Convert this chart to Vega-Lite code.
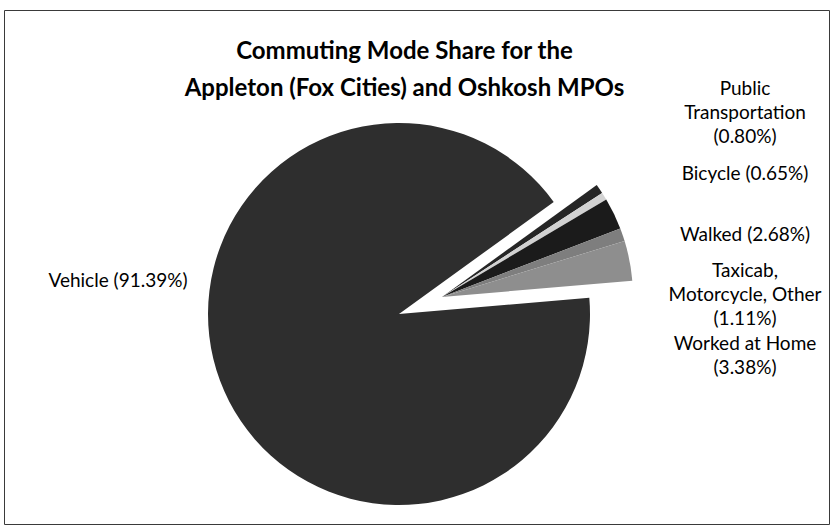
{
  "$schema": "https://vega.github.io/schema/vega-lite/v6.json",
  "width": 825,
  "height": 514,
  "autosize": {"type": "none"},
  "padding": {"left": 4, "top": 10, "right": 7, "bottom": 5},
  "background": "white",
  "config": {"view": {"stroke": "#3a3a3a", "strokeWidth": 1}},
  "title": {
    "text": ["Commuting Mode Share for the", "Appleton (Fox Cities) and Oshkosh MPOs"],
    "font": "Lato",
    "fontSize": 24,
    "fontWeight": "bold",
    "color": "#000000",
    "anchor": "middle",
    "lineHeight": 37,
    "offset": -91,
    "dx": -12
  },
  "data": {
    "values": [
      {"mode": "Public Transportation", "share": 0.80, "order": 1, "lines": 3, "label": "Public\nTransportation\n(0.80%)"},
      {"mode": "Bicycle", "share": 0.65, "order": 2, "lines": 1, "label": "Bicycle (0.65%)"},
      {"mode": "Walked", "share": 2.68, "order": 3, "lines": 1, "label": "Walked (2.68%)"},
      {"mode": "Taxicab, Motorcycle, Other", "share": 1.11, "order": 4, "lines": 3, "label": "Taxicab,\nMotorcycle, Other\n(1.11%)"},
      {"mode": "Worked at Home", "share": 3.38, "order": 5, "lines": 2, "label": "Worked at Home\n(3.38%)"},
      {"mode": "Vehicle", "share": 91.39, "order": 6, "lines": 1, "label": "Vehicle (91.39%)"}
    ]
  },
  "layer": [
    {
      "mark": {"type": "arc", "outerRadius": 191, "x": 395, "y": 304, "strokeWidth": 0},
      "encoding": {
        "theta": {"field": "share", "type": "quantitative", "stack": true, "scale": {"range": [0.9442, 7.2274]}},
        "order": {"field": "order", "type": "quantitative"},
        "color": {
          "field": "mode", "type": "nominal", "legend": null,
          "scale": {
            "domain": ["Public Transportation", "Bicycle", "Walked", "Taxicab, Motorcycle, Other", "Worked at Home", "Vehicle"],
            "range": ["#262626", "#d2d2d2", "#1b1b1b", "#7e7e7e", "#8e8e8e", "#2e2e2e"]
          }
        },
        "opacity": {"condition": {"test": "datum.mode === 'Vehicle'", "value": 1}, "value": 0}
      }
    },
    {
      "mark": {"type": "arc", "outerRadius": 191, "x": 438, "y": 287, "strokeWidth": 0},
      "encoding": {
        "theta": {"field": "share", "type": "quantitative", "stack": true, "scale": {"range": [0.9442, 7.2274]}},
        "order": {"field": "order", "type": "quantitative"},
        "color": {
          "field": "mode", "type": "nominal", "legend": null,
          "scale": {
            "domain": ["Public Transportation", "Bicycle", "Walked", "Taxicab, Motorcycle, Other", "Worked at Home", "Vehicle"],
            "range": ["#262626", "#d2d2d2", "#1b1b1b", "#7e7e7e", "#8e8e8e", "#2e2e2e"]
          }
        },
        "opacity": {"condition": {"test": "datum.mode === 'Vehicle'", "value": 0}, "value": 1}
      }
    },
    {
      "transform": [{"filter": "datum.mode !== 'Vehicle'"}],
      "mark": {"type": "text", "x": 741, "align": "center", "baseline": "middle", "lineBreak": "\n", "font": "Lato", "fontSize": 19, "lineHeight": 24, "color": "#000000"},
      "encoding": {
        "y": {
          "field": "mode", "type": "nominal", "axis": null,
          "scale": {"type": "point", "padding": 0, "domain": ["Public Transportation", "Bicycle", "Walked", "Taxicab, Motorcycle, Other", "Worked at Home"], "range": [103, 346]}
        },
        "yOffset": {"field": "lines", "type": "quantitative", "scale": {"domain": [1, 3], "range": [0, -24]}},
        "text": {"field": "label", "type": "nominal"}
      }
    },
    {
      "transform": [{"filter": "datum.mode === 'Vehicle'"}],
      "mark": {"type": "text", "x": 114, "y": 271, "align": "center", "baseline": "middle", "font": "Lato", "fontSize": 19, "color": "#000000"},
      "encoding": {
        "text": {"field": "label", "type": "nominal"}
      }
    }
  ]
}
